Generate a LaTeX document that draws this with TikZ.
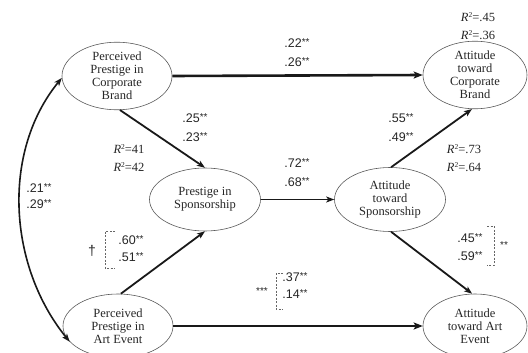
\documentclass[tikz,border=0pt]{standalone}
\usepackage{fontspec}
\setmainfont{Liberation Serif}
\newfontfamily\numfont{Liberation Sans}
\usetikzlibrary{shapes.geometric,arrows.meta,calc}
\newcommand\sgn[1]{{\numfont #1\raisebox{0.3ex}{\fontsize{10}{10}\selectfont **}}}
\newcommand\rsq[1]{\textit{R}\raisebox{0.55ex}{\fontsize{7.5}{7.5}\selectfont 2}=#1}
\tikzset{
  latent/.style={ellipse, draw=black!65, line width=0.6pt, inner sep=0pt,
    align=center, font=\fontsize{12.5}{13}\selectfont, text=black!85},
  lbl/.style={inner sep=0pt, font=\fontsize{12.5}{12.5}\selectfont, text=black!85},
  rlbl/.style={inner sep=0pt, font=\fontsize{12.5}{12.5}\selectfont, text=black!85},
  path1/.style={line width=2.6pt, draw=black!90, -{Stealth[length=9pt,width=7pt,inset=2pt]}},
  path2/.style={line width=1.8pt, draw=black!90, -{Stealth[length=8pt,width=6pt,inset=2pt]}},
  path3/.style={line width=1.4pt, draw=black!90, -{Stealth[length=8pt,width=6pt,inset=2pt]}},
  brk/.style={draw=black!60, line width=0.6pt, dash pattern=on 2pt off 1.5pt},
}
\begin{document}
\begin{tikzpicture}[x=1pt,y=-1pt]
\useasboundingbox (0,0) rectangle (528,353);
\node[latent, minimum width=110pt, minimum height=64pt] (pcb) at (117,76) {Perceived\\Prestige in\\Corporate\\Brand};
\node[latent, minimum width=104pt, minimum height=64pt] (acb) at (475,75) {Attitude\\toward\\Corporate\\Brand};
\node[latent, minimum width=111pt, minimum height=63pt] (ps) at (205,199.5) {Prestige in\\Sponsorship};
\node[latent, minimum width=111pt, minimum height=64pt] (as) at (390,199.5) {Attitude\\toward\\Sponsorship};
\node[latent, minimum width=110pt, minimum height=64pt] (pae) at (118,326) {Perceived\\Prestige in\\Art Event};
\node[latent, minimum width=104pt, minimum height=64pt] (aae) at (475,326) {Attitude\\toward Art\\Event};

\draw[path1] (pcb.east) -- (acb.west);
\draw[path1] (pae.east) -- (aae.west);
\draw[path2] (pcb.-85) -- (ps.north);
\draw[path2] (pae.85) -- (ps.south);
\draw[path3] (ps.east) -- (as.west);
\draw[path2] (as.88) -- (acb.-95);
\draw[path2] (as.-88) -- (aae.95);
\draw[line width=1.6pt, draw=black!90, {Stealth[length=8pt,width=6pt,inset=2pt]}-{Stealth[length=8pt,width=6pt,inset=2pt]}]
  (pcb.182) .. controls ($(pcb.182)+(-61,75)$) and ($(pae.198)+(-61,-75)$) .. (pae.198);

\node[lbl] (a1) at (297,43) {\sgn{.22}};
\node[lbl] (a2) at (297,62) {\sgn{.26}};
\node[lbl] (b1) at (195,118) {\sgn{.25}};
\node[lbl] (b2) at (195,137) {\sgn{.23}};
\node[rlbl] (r1) at (129,149) {\rsq{41}};
\node[rlbl] (r2) at (129,167) {\rsq{42}};
\node[lbl] (c1) at (297,163) {\sgn{.72}};
\node[lbl] (c2) at (297,182) {\sgn{.68}};
\node[lbl] (d1) at (401,118) {\sgn{.55}};
\node[lbl] (d2) at (401,137) {\sgn{.49}};
\node[rlbl] (r3) at (464,149) {\rsq{.73}};
\node[rlbl] (r4) at (464,167) {\rsq{.64}};
\node[rlbl] (r5) at (478,17) {\rsq{.45}};
\node[rlbl] (r6) at (478,35) {\rsq{.36}};
\node[lbl] (e1) at (39,188) {\sgn{.21}};
\node[lbl] (e2) at (39,204) {\sgn{.29}};

\node[lbl] (dag) at (92,251) {\fontsize{14}{14}\selectfont\numfont\textdagger};
\coordinate (k1a) at (115,231); \coordinate (k1b) at (105,231);
\coordinate (k1c) at (105,268); \coordinate (k1d) at (115,268);
\draw[brk] (k1a) -- (k1b) -- (k1c) -- (k1d);
\node[lbl] (f1) at (131,240) {\sgn{.60}};
\node[lbl] (f2) at (131,257) {\sgn{.51}};

\node[lbl] (st3) at (262,291) {\fontsize{10}{10}\selectfont\numfont ***};
\coordinate (k2a) at (283,273); \coordinate (k2b) at (276,273);
\coordinate (k2c) at (276,309); \coordinate (k2d) at (283,309);
\draw[brk] (k2a) -- (k2b) -- (k2c) -- (k2d);
\node[lbl] (g1) at (295,277) {\sgn{.37}};
\node[lbl] (g2) at (295,294) {\sgn{.14}};

\coordinate (k3a) at (487,226); \coordinate (k3b) at (494,226);
\coordinate (k3c) at (494,265); \coordinate (k3d) at (487,265);
\draw[brk] (k3a) -- (k3b) -- (k3c) -- (k3d);
\node[lbl] (h1) at (470,238) {\sgn{.45}};
\node[lbl] (h2) at (470,256) {\sgn{.59}};
\node[lbl] (st2) at (504,245) {\fontsize{10}{10}\selectfont\numfont **};
\end{tikzpicture}
\end{document}
